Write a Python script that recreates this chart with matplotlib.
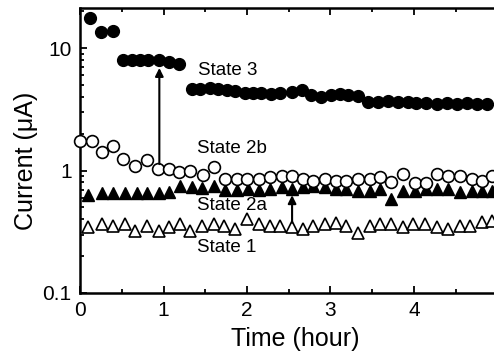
import matplotlib
matplotlib.use("Agg")
import matplotlib.pyplot as plt
from matplotlib.ticker import LogLocator, FixedLocator, NullFormatter

plt.rcParams['font.family'] = ['Liberation Sans', 'DejaVu Sans']

# State 3 (filled circles)
t3 = [0.12, 0.25, 0.39, 0.52, 0.62, 0.72, 0.82, 0.94, 1.06, 1.18,
      1.34, 1.44, 1.56, 1.65, 1.76, 1.86, 1.98, 2.07, 2.17, 2.29, 2.40,
      2.54, 2.66, 2.77, 2.89, 3.01, 3.11, 3.21, 3.33, 3.45, 3.57, 3.69,
      3.81, 3.93, 4.03, 4.15, 4.27, 4.39, 4.51, 4.63, 4.75, 4.87]
i3 = [17.5, 13.6, 13.9, 8.0, 8.0, 8.0, 8.0, 8.0, 7.7, 7.4,
      4.68, 4.68, 4.73, 4.61, 4.53, 4.44, 4.33, 4.33, 4.33, 4.25, 4.27,
      4.38, 4.53, 4.12, 3.99, 4.12, 4.20, 4.12, 4.04, 3.63, 3.63, 3.70,
      3.63, 3.63, 3.59, 3.56, 3.52, 3.56, 3.52, 3.56, 3.52, 3.50]

# State 2b (open circles)
t2b = [0.00, 0.14, 0.26, 0.39, 0.52, 0.66, 0.80, 0.93, 1.06, 1.19,
       1.32, 1.47, 1.60, 1.74, 1.88, 2.00, 2.14, 2.28, 2.42, 2.54,
       2.67, 2.79, 2.93, 3.07, 3.19, 3.33, 3.47, 3.59, 3.73, 3.87,
       4.01, 4.15, 4.27, 4.41, 4.55, 4.69, 4.81, 4.93]
i2b = [1.76, 1.76, 1.43, 1.58, 1.25, 1.10, 1.23, 1.03, 1.03, 0.97,
       1.00, 0.92, 1.08, 0.855, 0.855, 0.855, 0.855, 0.88, 0.90, 0.91,
       0.855, 0.82, 0.855, 0.82, 0.82, 0.855, 0.855, 0.88, 0.80, 0.93,
       0.79, 0.785, 0.93, 0.91, 0.91, 0.855, 0.83, 0.91]

# State 2a (filled triangles)
t2a = [0.10, 0.26, 0.40, 0.54, 0.68, 0.80, 0.94, 1.06, 1.20, 1.34,
       1.46, 1.60, 1.74, 1.88, 2.01, 2.14, 2.28, 2.42, 2.54, 2.67,
       2.79, 2.93, 3.07, 3.19, 3.33, 3.47, 3.59, 3.73, 3.87, 4.01,
       4.15, 4.27, 4.41, 4.55, 4.69, 4.81, 4.93]
i2a = [0.63, 0.65, 0.65, 0.65, 0.66, 0.66, 0.66, 0.67, 0.75, 0.73,
       0.72, 0.75, 0.70, 0.70, 0.71, 0.70, 0.71, 0.73, 0.71, 0.74,
       0.75, 0.73, 0.71, 0.71, 0.685, 0.685, 0.71, 0.586, 0.685, 0.685,
       0.71, 0.71, 0.71, 0.67, 0.685, 0.685, 0.685]

# State 1 (open triangles)
t1 = [0.10, 0.26, 0.40, 0.54, 0.66, 0.80, 0.94, 1.06, 1.20, 1.32,
      1.46, 1.60, 1.72, 1.86, 2.00, 2.14, 2.28, 2.40, 2.54, 2.67,
      2.79, 2.93, 3.07, 3.19, 3.33, 3.47, 3.59, 3.73, 3.87, 3.99,
      4.13, 4.27, 4.41, 4.55, 4.67, 4.81, 4.93]
i1 = [0.343, 0.365, 0.354, 0.365, 0.322, 0.354, 0.322, 0.343, 0.365, 0.322,
      0.354, 0.365, 0.354, 0.333, 0.40, 0.365, 0.354, 0.354, 0.343, 0.333,
      0.354, 0.365, 0.376, 0.354, 0.312, 0.354, 0.365, 0.365, 0.343, 0.365,
      0.365, 0.343, 0.333, 0.354, 0.354, 0.38, 0.39]

labels = ["State 3", "State 2b", "State 2a", "State 1"]
label_pos = [(1.41, 6.6), (1.40, 1.52), (1.40, 0.516), (1.40, 0.235)]
arrows = [(0.95, 1.13, 6.9), (2.54, 0.375, 0.63)]

fig = plt.figure(figsize=(4.94, 3.58), dpi=100)
# the frame runs past the right edge of the figure
ax = fig.add_axes([0.162, 0.1816, 0.87, 0.796])

ms = 8.5
ax.plot(t2a, i2a, ls='none', marker='^', ms=ms, mfc='k', mec='k', zorder=3)
ax.plot(t1, i1, ls='none', marker='^', ms=ms, mfc='white', mec='k', mew=1.2, zorder=3)
ax.plot(t2b, i2b, ls='none', marker='o', ms=ms, mfc='white', mec='k', mew=1.2,
        zorder=4, clip_on=False)
ax.plot(t3, i3, ls='none', marker='o', ms=ms, mfc='k', mec='k', zorder=4)

for x, y0, y1 in arrows:
    ax.annotate('', xy=(x, y1), xytext=(x, y0),
                arrowprops=dict(arrowstyle='-|>', color='k', lw=1.5,
                                mutation_scale=12, shrinkA=0, shrinkB=0),
                zorder=5)

for txt, (x, y) in zip(labels, label_pos):
    ax.text(x, y, txt, fontsize=13.5, ha='left', va='center')

ax.set_yscale('log')
ax.set_xlim(0, 5.0 * 0.87 / 0.845)
ax.set_ylim(0.1, 21.3)

ax.xaxis.set_major_locator(FixedLocator([0, 1, 2, 3, 4]))
ax.xaxis.set_minor_locator(FixedLocator([0.5, 1.5, 2.5, 3.5, 4.5]))
ax.yaxis.set_major_locator(FixedLocator([0.1, 1, 10]))
ax.yaxis.set_major_formatter(plt.FuncFormatter(lambda v, p: f"{v:g}"))
ax.yaxis.set_minor_locator(LogLocator(base=10, subs=range(2, 10)))
ax.yaxis.set_minor_formatter(NullFormatter())

ax.tick_params(which='both', direction='in', top=True, right=False,
               width=1.3, labelsize=15)
ax.tick_params(which='major', length=5, pad=6)
ax.tick_params(which='minor', length=3)
for s in ax.spines.values():
    s.set_linewidth(1.8)
ax.spines['right'].set_visible(False)

ax.set_xlabel("Time (hour)", fontsize=18, labelpad=5)
ax.set_ylabel("Current (\u03bcA)", fontsize=18)
ax.yaxis.set_label_coords(-0.098, 0.463)

fig.savefig("out.png", dpi=100)
